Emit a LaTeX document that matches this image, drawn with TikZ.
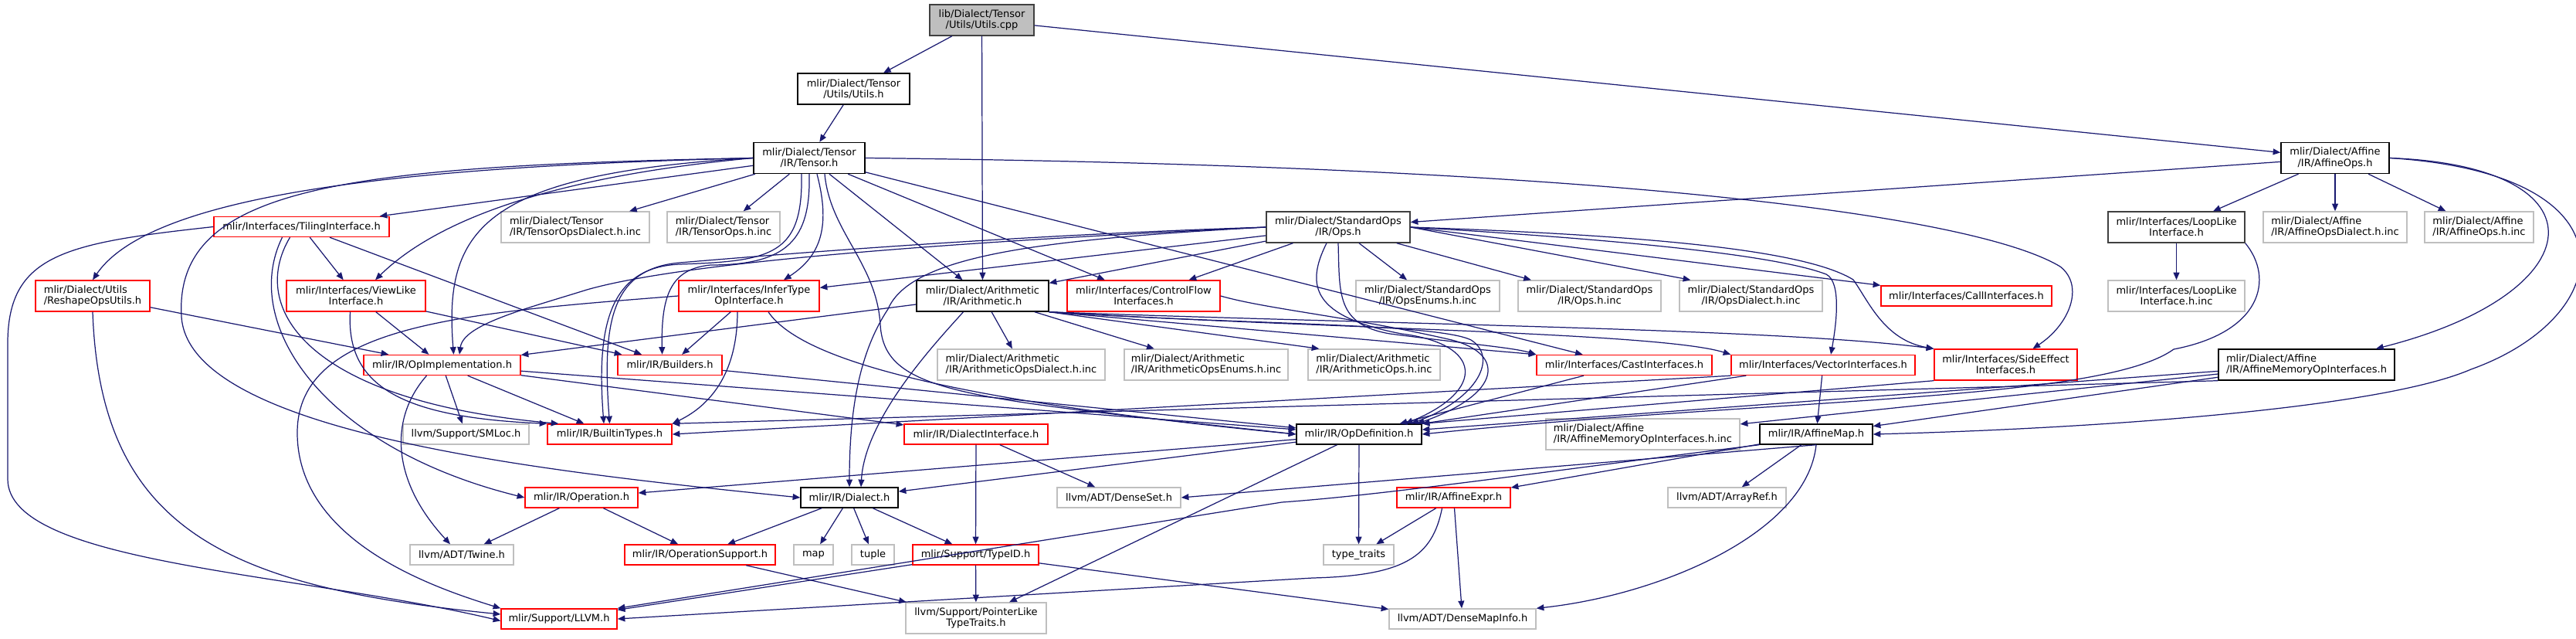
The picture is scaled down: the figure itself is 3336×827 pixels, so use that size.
\documentclass[tikz,border=0pt]{standalone}
\usepackage{fontspec}
\setmainfont{DejaVu Sans}
\usetikzlibrary{arrows.meta}
\definecolor{edgeblue}{RGB}{25,25,112}
\definecolor{boxgrey}{RGB}{191,191,191}
\definecolor{boxdark}{RGB}{64,64,64}

\begin{document}
\begin{tikzpicture}[x=0.02cm,y=-0.02cm,
    box/.style={draw=black,fill=white,line width=0.8pt,inner sep=0pt,minimum height=0.52cm,
                align=center,font=\fontsize{7.4}{8.1}\selectfont},
    two/.style={minimum height=0.8cm},
    lft/.style={align=left},
    bw/.style={minimum width=#1*0.02cm},
    trunc/.style={draw=red},
    undoc/.style={draw=boxgrey},
    darkbox/.style={draw=boxdark},
    rootbox/.style={draw=boxdark,fill=boxgrey},
    dep/.style={draw=edgeblue,line width=0.7pt,-{Triangle[length=5.5pt,width=4.5pt]}}]

    \useasboundingbox (0,0) rectangle (3336,827);

    % ============================================
    % NODES
    % ============================================

    % top rows
    \node[box,two,rootbox,bw=135] (root) at (1271.5,26) {lib/Dialect/Tensor\\/Utils/Utils.cpp};
    \node[box,two,bw=145] (utilsh) at (1105.5,115) {mlir/Dialect/Tensor\\/Utils/Utils.h};
    \node[box,two,bw=144] (tensorh) at (1048,204.5) {mlir/Dialect/Tensor\\/IR/Tensor.h};
    \node[box,two,bw=140] (affineops) at (3024,204.5) {mlir/Dialect/Affine\\/IR/AffineOps.h};

    % row 4
    \node[box,trunc,bw=227] (tiling) at (390.5,293.5) {mlir/Interfaces/TilingInterface.h};
    \node[box,two,undoc,lft,bw=192] (tdialectinc) at (745,294) {mlir/Dialect/Tensor\\/IR/TensorOpsDialect.h.inc};
    \node[box,two,undoc,lft,bw=146] (topsinc) at (937,294) {mlir/Dialect/Tensor\\/IR/TensorOps.h.inc};
    \node[box,two,darkbox,bw=186] (stdops) at (1733,294) {mlir/Dialect/StandardOps\\/IR/Ops.h};
    \node[box,two,darkbox,bw=177] (looplike) at (2818.5,294) {mlir/Interfaces/LoopLike\\Interface.h};
    \node[box,two,undoc,lft,bw=186] (affdialinc) at (3024,294) {mlir/Dialect/Affine\\/IR/AffineOpsDialect.h.inc};
    \node[box,two,undoc,lft,bw=141] (affopsinc) at (3210.5,294) {mlir/Dialect/Affine\\/IR/AffineOps.h.inc};

    % row 5
    \node[box,two,trunc,lft,bw=148] (reshape) at (120,383) {mlir/Dialect/Utils\\/ReshapeOpsUtils.h};
    \node[box,two,trunc,bw=180] (viewlike) at (461,383) {mlir/Interfaces/ViewLike\\Interface.h};
    \node[box,two,trunc,bw=182] (infertype) at (970,383) {mlir/Interfaces/InferType\\OpInterface.h};
    \node[box,two,bw=171] (arith) at (1272.5,383) {mlir/Dialect/Arithmetic\\/IR/Arithmetic.h};
    \node[box,two,trunc,bw=198] (controlflow) at (1481,383) {mlir/Interfaces/ControlFlow\\Interfaces.h};
    \node[box,two,undoc,bw=186] (opsenums) at (1849,383) {mlir/Dialect/StandardOps\\/IR/OpsEnums.h.inc};
    \node[box,two,undoc,bw=185] (opsinc) at (2058.5,383) {mlir/Dialect/StandardOps\\/IR/Ops.h.inc};
    \node[box,two,undoc,bw=185] (opsdialect) at (2267.5,383) {mlir/Dialect/StandardOps\\/IR/OpsDialect.h.inc};
    \node[box,trunc,bw=221] (callif) at (2546.5,383) {mlir/Interfaces/CallInterfaces.h};
    \node[box,two,undoc,bw=177] (looplikeinc) at (2818.5,383) {mlir/Interfaces/LoopLike\\Interface.h.inc};

    % row 6
    \node[box,trunc,bw=203] (opimpl) at (572.5,472.5) {mlir/IR/OpImplementation.h};
    \node[box,trunc,bw=135] (builders) at (867.5,472.5) {mlir/IR/Builders.h};
    \node[box,two,undoc,lft,bw=217] (aritdialinc) at (1322.5,472) {mlir/Dialect/Arithmetic\\/IR/ArithmeticOpsDialect.h.inc};
    \node[box,two,undoc,lft,bw=212] (aritenumsinc) at (1562,472) {mlir/Dialect/Arithmetic\\/IR/ArithmeticOpsEnums.h.inc};
    \node[box,two,undoc,lft,bw=171] (aritopsinc) at (1779.5,472) {mlir/Dialect/Arithmetic\\/IR/ArithmeticOps.h.inc};
    \node[box,trunc,bw=227] (castif) at (2103.5,472.5) {mlir/Interfaces/CastInterfaces.h};
    \node[box,trunc,bw=238] (vectorif) at (2361,472.5) {mlir/Interfaces/VectorInterfaces.h};
    \node[box,two,trunc,bw=185] (sideeffect) at (2597.5,472) {mlir/Interfaces/SideEffect\\Interfaces.h};
    \node[box,two,lft,bw=228] (affmemif) at (2987,472) {mlir/Dialect/Affine\\/IR/AffineMemoryOpInterfaces.h};

    % row 7
    \node[box,undoc,bw=163] (smloc) at (603.5,562) {llvm/Support/SMLoc.h};
    \node[box,trunc,bw=161] (builtin) at (789.5,562) {mlir/IR/BuiltinTypes.h};
    \node[box,trunc,bw=186] (dialectif) at (1264,562) {mlir/IR/DialectInterface.h};
    \node[box,bw=162] (opdef) at (1760,562) {mlir/IR/OpDefinition.h};
    \node[box,two,undoc,lft,bw=251] (affmemifinc) at (2127.5,562) {mlir/Dialect/Affine\\/IR/AffineMemoryOpInterfaces.h.inc};
    \node[box,bw=146] (affinemap) at (2352,562) {mlir/IR/AffineMap.h};

    % row 8
    \node[box,trunc,bw=146] (operation) at (753,644) {mlir/IR/Operation.h};
    \node[box,bw=126] (dialect) at (1100,644) {mlir/IR/Dialect.h};
    \node[box,undoc,bw=160] (denseset) at (1449,644) {llvm/ADT/DenseSet.h};
    \node[box,trunc,bw=147] (affineexpr) at (1882.5,644) {mlir/IR/AffineExpr.h};
    \node[box,undoc,bw=153] (arrayref) at (2236.5,644) {llvm/ADT/ArrayRef.h};

    % row 9
    \node[box,undoc,bw=134] (twine) at (598,718) {llvm/ADT/Twine.h};
    \node[box,trunc,bw=195] (opsupport) at (906.5,718) {mlir/IR/OperationSupport.h};
    \node[box,undoc,bw=51] (map) at (1053.5,718) {map};
    \node[box,undoc,bw=55] (tuple) at (1130.5,718) {tuple};
    \node[box,trunc,bw=163] (typeid) at (1263.5,718) {mlir/Support/TypeID.h};
    \node[box,undoc,bw=91] (typetraits) at (1759.5,718) {type\_traits};

    % row 10
    \node[box,trunc,bw=150] (llvm) at (724,801) {mlir/Support/LLVM.h};
    \node[box,two,undoc,bw=182] (pointerlike) at (1264,800) {llvm/Support/PointerLike\\TypeTraits.h};
    \node[box,undoc,bw=190] (densemapinfo) at (1894,801) {llvm/ADT/DenseMapInfo.h};

    % ============================================
    % EDGES
    % ============================================

    % Utils.cpp and Utils.h
    \draw[dep] (root) -- (utilsh);
    \draw[dep] (root) -- (arith);
    \draw[dep] (root) -- (affineops);
    \draw[dep] (utilsh) -- (tensorh);

    % Tensor.h
    \draw[dep] (tensorh) -- (tiling);
    \draw[dep] (tensorh) -- (tdialectinc);
    \draw[dep] (tensorh) -- (topsinc);
    \draw[dep] (tensorh) -- (arith);
    \draw[dep] (tensorh) -- (controlflow);
    \draw[dep] (tensorh) -- (castif);
    \draw[dep] (tensorh.west) .. controls (560,215) and (200,245) .. (reshape.north);
    \draw[dep] (tensorh.west) .. controls (700,230) and (560,290) .. ([xshift=0.5cm]viewlike.north);
    \draw[dep] (tensorh.west) .. controls (620,225) and (575,300) .. ([xshift=0.3cm]opimpl.north);
    \draw[dep] (tensorh.west) .. controls (450,215) and (225,240) .. (235,410)
               .. controls (245,560) and (700,610) .. (dialect.west);
    \draw[dep] (tensorh.south) .. controls (1050,310) and (1020,343) .. (920,343)
               .. controls (870,348) and (856,380) .. ([xshift=-0.2cm]builders.north);
    \draw[dep] ([xshift=-0.2cm]tensorh.south) .. controls (1040,330) and (1000,338) .. (880,342)
               .. controls (790,346) and (772,420) .. ([xshift=-0.15cm]builtin.north);
    \draw[dep] ([xshift=0.2cm]tensorh.south) .. controls (1075,290) and (1065,330) .. ([xshift=0.9cm]infertype.north);
    \draw[dep] ([xshift=0.4cm]tensorh.south) .. controls (1075,300) and (1135,340) .. (1140,420)
               .. controls (1145,510) and (1250,515) .. (opdef.west);
    \draw[dep] (tensorh.east) .. controls (2100,215) and (2560,280) .. (2668,345)
               .. controls (2700,370) and (2680,420) .. ([xshift=0.7cm]sideeffect.north);

    % AffineOps.h
    \draw[dep] (affineops) -- (stdops);
    \draw[dep] (affineops) -- (looplike);
    \draw[dep] (affineops) -- (affdialinc);
    \draw[dep] (affineops) -- (affopsinc);
    \draw[dep] (affineops.east) .. controls (3380,215) and (3360,380) .. ([xshift=1.8cm]affmemif.north);
    \draw[dep] (affineops.east) .. controls (3420,225) and (3390,410) .. (3200,478)
               .. controls (3080,530) and (2700,555) .. (affinemap.east);

    % LoopLikeInterface.h
    \draw[dep] (looplike) -- (looplikeinc);
    \draw[dep] (looplike.south east) .. controls (2945,360) and (2930,430) .. (2815,452)
               .. controls (2720,520) and (2300,515) .. (opdef.east);

    % StandardOps/IR/Ops.h
    \draw[dep] (stdops) -- (opsenums);
    \draw[dep] (stdops) -- (opsinc);
    \draw[dep] (stdops.east) -- ([xshift=0.3cm]opsdialect.north west);
    \draw[dep] (stdops.east) -- (callif.north west);
    \draw[dep] (stdops) -- (arith);
    \draw[dep] (stdops) -- (controlflow);
    \draw[dep] (stdops) -- (infertype);
    \draw[dep] (stdops.east) .. controls (2100,310) and (2300,330) .. (2365,355)
               .. controls (2385,365) and (2378,420) .. ([xshift=0.2cm]vectorif.north);
    \draw[dep] (stdops.east) .. controls (2150,305) and (2340,325) .. (2400,362)
               .. controls (2420,390) and (2440,440) .. (sideeffect.north west);
    \draw[dep] (stdops.south) .. controls (1735,380) and (1730,420) .. (1800,432)
               .. controls (1900,445) and (1960,450) .. (castif.north west);
    \draw[dep] ([xshift=-0.3cm]stdops.south) .. controls (1690,370) and (1700,410) .. (1815,432)
               .. controls (1920,445) and (1925,505) .. ([xshift=1.2cm]opdef.north);
    \draw[dep] (stdops.west) .. controls (1300,310) and (900,335) .. (760,375)
               .. controls (680,400) and (600,420) .. ([xshift=0.45cm]opimpl.north);
    \draw[dep] (stdops.west) .. controls (1300,305) and (1000,330) .. (880,340)
               .. controls (790,348) and (780,420) .. (builtin.north);
    \draw[dep] (stdops.west) .. controls (1350,310) and (1180,330) .. (1150,400)
               .. controls (1110,460) and (1100,540) .. (dialect.north);

    % Arithmetic.h
    \draw[dep] (arith) -- (aritdialinc);
    \draw[dep] (arith) -- (aritenumsinc);
    \draw[dep] (arith.south east) -- ([xshift=0.3cm]aritopsinc.north west);
    \draw[dep] (arith) -- (opimpl);
    \draw[dep] (arith.south east) -- (castif.north west);
    \draw[dep] ([xshift=-0.5cm]arith.south) .. controls (1215,440) and (1120,540) .. ([xshift=0.3cm]dialect.north);
    \draw[dep] (arith.south east) .. controls (1700,425) and (2150,430) .. (vectorif.north west);
    \draw[dep] (arith.south east) .. controls (1800,420) and (2300,425) .. (sideeffect.north west);
    \draw[dep] (arith.south east) .. controls (1600,420) and (1860,418) .. (1905,440)
               .. controls (1940,462) and (1915,515) .. ([xshift=1.35cm]opdef.north);

    % ControlFlowInterfaces.h
    \draw[dep] (controlflow.east) .. controls (1640,400) and (1750,410) .. (1880,440)
               .. controls (1950,458) and (1945,510) .. ([xshift=1.5cm]opdef.north);

    % InferTypeOpInterface.h
    \draw[dep] (infertype) -- (builders);
    \draw[dep] ([xshift=-0.3cm]infertype.south) .. controls (955,470) and (930,520) .. (builtin.north east);
    \draw[dep] ([xshift=0.5cm]infertype.south) .. controls (1040,470) and (1250,520) .. (opdef.west);
    \draw[dep] (infertype.west) .. controls (600,405) and (385,420) .. (385,560)
               .. controls (385,700) and (560,760) .. (llvm.north west);

    % TilingInterface.h
    \draw[dep] (tiling) -- (viewlike);
    \draw[dep] (tiling) -- (builders);
    \draw[dep] ([xshift=-0.3cm]tiling.south) .. controls (320,400) and (400,520) .. ([xshift=0.3cm]builtin.north west);
    \draw[dep] ([xshift=-0.5cm]tiling.south) .. controls (310,420) and (420,580) .. (operation.west);
    \draw[dep] (tiling.west) .. controls (80,315) and (8,330) .. (10,450) -- (10,620)
               .. controls (10,730) and (380,740) .. ([yshift=-0.05cm]llvm.west);

    % ReshapeOpsUtils.h
    \draw[dep] (reshape) -- (opimpl);
    \draw[dep] (reshape.south) .. controls (130,690) and (300,760) .. ([yshift=0.12cm]llvm.west);

    % ViewLikeInterface.h
    \draw[dep] (viewlike) -- (opimpl);
    \draw[dep] (viewlike) -- (builders);
    \draw[dep] ([xshift=-0.15cm]viewlike.south) .. controls (448,500) and (520,540) .. (builtin.north west);

    % OpImplementation.h
    \draw[dep] (opimpl) -- (smloc);
    \draw[dep] (opimpl) -- (builtin);
    \draw[dep] (opimpl) -- (dialectif);
    \draw[dep] (opimpl) -- (opdef);
    \draw[dep] ([xshift=-0.4cm]opimpl.south) .. controls (505,540) and (505,620) .. ([xshift=-0.3cm]twine.north);

    % interfaces into OpDefinition.h
    \draw[dep] (builders) -- (opdef);
    \draw[dep] (vectorif) -- (affinemap);
    \draw[dep] (vectorif.south west) -- (builtin.east);
    \draw[dep] ([xshift=0.4cm]vectorif.south west) -- (opdef.north east);
    \draw[dep] (castif) -- (opdef);
    \draw[dep] (sideeffect.south west) -- (opdef.north east);
    \draw[dep] (affmemif) -- (affmemifinc);
    \draw[dep] (affmemif) -- (affinemap);
    \draw[dep] (affmemif) -- (opdef);
    \draw[dep] (affmemif.south west) -- (builtin.north east);

    % lower part
    \draw[dep] (opdef) -- (typetraits);
    \draw[dep] (opdef) -- (operation);
    \draw[dep] (opdef) -- (dialect);
    \draw[dep] (opdef) -- (pointerlike);
    \draw[dep] (operation) -- (twine);
    \draw[dep] (operation) -- (opsupport);
    \draw[dep] (dialect) -- (opsupport);
    \draw[dep] (dialect) -- (map);
    \draw[dep] (dialect) -- (tuple);
    \draw[dep] (dialect) -- (typeid);
    \draw[dep] (dialectif) -- (typeid);
    \draw[dep] (dialectif) -- (denseset);
    \draw[dep] (typeid) -- (llvm);
    \draw[dep] (typeid) -- (pointerlike);
    \draw[dep] (typeid) -- (densemapinfo);
    \draw[dep] (opsupport) -- (pointerlike);

    % AffineMap.h and AffineExpr.h
    \draw[dep] (affinemap) -- (affineexpr);
    \draw[dep] (affinemap) -- (arrayref);
    \draw[dep] (affinemap.south) -- (denseset.east);
    \draw[dep] (affinemap.south) .. controls (2340,690) and (2150,770) .. (densemapinfo.north east);
    \draw[dep] (affinemap.south west) .. controls (2000,610) and (1800,640) .. (1660,650) -- (llvm.north east);
    \draw[dep] (affineexpr) -- (typetraits);
    \draw[dep] (affineexpr) -- (densemapinfo);
    \draw[dep] ([xshift=-0.3cm]affineexpr.south) .. controls (1855,720) and (1820,745) .. (1700,748) -- (llvm.east);

\end{tikzpicture}
\end{document}
